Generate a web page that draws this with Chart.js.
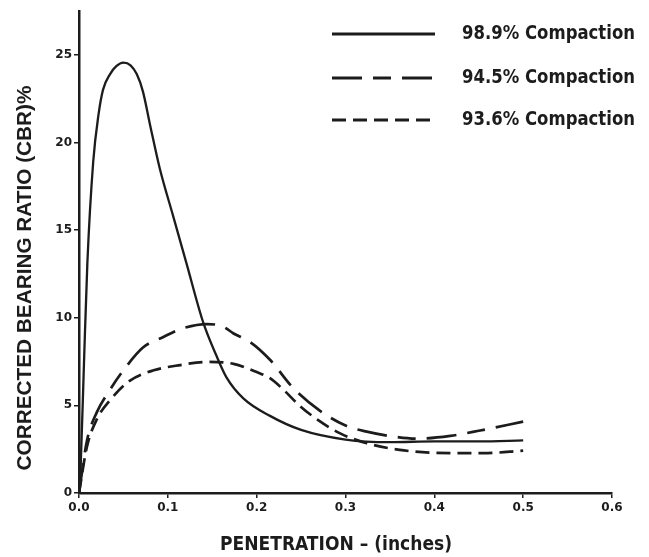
<!DOCTYPE html>
<html>
<head>
<meta charset="utf-8">
<script src="https://cdn.jsdelivr.net/npm/chart.js@4.4.1/dist/chart.umd.min.js"></script>
<style>
  html, body { margin: 0; padding: 0; background: #fff; }
</style>
</head>
<body>
<canvas id="cbr" width="649" height="557"></canvas>
<script>
// Penetratie (inches) en CBR (%) per verdichting
const pen989 = [0, 0.002, 0.0056, 0.0094, 0.016, 0.022, 0.027, 0.035, 0.042, 0.05, 0.058, 0.065, 0.072, 0.08, 0.091, 0.106, 0.121, 0.14, 0.155, 0.166, 0.185, 0.215, 0.25, 0.3, 0.35, 0.4, 0.45, 0.5];
const cbr989 = [0, 1.7, 7.4, 13.1, 18.9, 21.6, 23.0, 23.9, 24.35, 24.55, 24.4, 23.9, 22.9, 21.0, 18.5, 15.8, 13.1, 9.7, 7.8, 6.6, 5.4, 4.4, 3.6, 3.05, 2.9, 2.95, 2.95, 3.0];

const pen945 = [0, 0.009, 0.02, 0.035, 0.05, 0.072, 0.095, 0.117, 0.144, 0.162, 0.174, 0.193, 0.215, 0.241, 0.271, 0.3, 0.324, 0.35, 0.38, 0.418, 0.45, 0.5];
const cbr945 = [0, 3.0, 4.6, 5.9, 7.0, 8.3, 8.9, 9.4, 9.64, 9.5, 9.1, 8.6, 7.6, 6.0, 4.7, 3.85, 3.5, 3.25, 3.1, 3.26, 3.55, 4.07];

const pen936 = [0, 0.009, 0.02, 0.035, 0.057, 0.084, 0.114, 0.144, 0.174, 0.2, 0.215, 0.23, 0.249, 0.268, 0.294, 0.324, 0.361, 0.399, 0.455, 0.5];
const cbr936 = [0, 2.65, 4.2, 5.3, 6.4, 7.0, 7.3, 7.48, 7.37, 6.9, 6.55, 5.9, 4.95, 4.2, 3.4, 2.84, 2.46, 2.3, 2.27, 2.42];

const seriesLabels = ["98.9% Compaction", "94.5% Compaction", "93.6% Compaction"];
const xTicks = [0, 0.1, 0.2, 0.3, 0.4, 0.5, 0.6];
const yTicks = [0, 5, 10, 15, 20, 25];

const ink = "#1c1c1c";
const heavyFont = "'DejaVu Sans Condensed', 'Liberation Sans Narrow', 'DejaVu Sans', sans-serif";

function toPoints(xs, ys) {
    return xs.map((x, i) => ({ x: x, y: ys[i] }));
}

// tekst op een vaste breedte tekenen
function fitText(ctx, text, x, y, width, font, align) {
    ctx.save();
    ctx.font = font;
    ctx.textBaseline = "middle";
    ctx.textAlign = align;
    const w = ctx.measureText(text).width;
    ctx.translate(x, y);
    ctx.scale(width / w, 1);
    ctx.fillText(text, 0, 0);
    ctx.restore();
}

// legenda en astitels
const labelPlugin = {
    id: "cbrLabels",
    afterDraw(chart) {
        const ctx = chart.ctx;
        const legendY = [34, 78, 120];
        ctx.save();
        ctx.fillStyle = ink;
        chart.data.datasets.forEach((ds, i) => {
            ctx.save();
            ctx.strokeStyle = ds.borderColor;
            ctx.lineWidth = 3;
            ctx.setLineDash(ds.borderDash || []);
            ctx.beginPath();
            ctx.moveTo(332, legendY[i]);
            ctx.lineTo(435, legendY[i]);
            ctx.stroke();
            ctx.restore();
            fitText(ctx, ds.label, 462, legendY[i], 173, "bold 20px " + heavyFont, "left");
        });

        // y-as titel
        ctx.save();
        ctx.translate(25, 278);
        ctx.rotate(-Math.PI / 2);
        fitText(ctx, "CORRECTED BEARING RATIO (CBR)%", 0, 0, 385, "bold 20px 'Liberation Sans', Arial, sans-serif", "center");
        ctx.restore();

        // x-as titel
        fitText(ctx, "PENETRATION \u2013 (inches)", 336, 545, 232, "bold 20px " + heavyFont, "center");
        ctx.restore();
    }
};

new Chart(document.getElementById("cbr"), {
    type: "scatter",
    data: {
        datasets: [
            {
                label: seriesLabels[0],
                data: toPoints(pen989, cbr989),
                borderColor: ink,
                borderWidth: 2.3
            },
            {
                label: seriesLabels[1],
                data: toPoints(pen945, cbr945),
                borderColor: ink,
                borderWidth: 2.7,
                borderDash: [30, 11, 18, 11]
            },
            {
                label: seriesLabels[2],
                data: toPoints(pen936, cbr936),
                borderColor: ink,
                borderWidth: 2.7,
                borderDash: [14, 7]
            }
        ]
    },
    options: {
        responsive: false,
        animation: false,
        showLine: true,
        layout: { padding: { left: 0, top: 11, right: 37, bottom: 0 } },
        elements: {
            point: { radius: 0 },
            line: { cubicInterpolationMode: "monotone", fill: false }
        },
        plugins: {
            legend: { display: false },
            tooltip: { enabled: false }
        },
        scales: {
            x: {
                type: "linear",
                min: 0,
                max: 0.6,
                afterFit: (scale) => { scale.height = 64; },
                afterBuildTicks: (scale) => { scale.ticks = xTicks.map((v) => ({ value: v })); },
                border: { color: ink, width: 2.5 },
                grid: { drawOnChartArea: false, tickLength: 5, color: ink, lineWidth: 1.5 },
                ticks: {
                    padding: 3,
                    color: ink,
                    font: { family: "'DejaVu Sans', sans-serif", size: 12, weight: "bold" },
                    callback: (v) => v.toFixed(1)
                }
            },
            y: {
                type: "linear",
                min: 0,
                max: 27.5,
                afterFit: (scale) => { scale.width = 79; },
                afterBuildTicks: (scale) => { scale.ticks = yTicks.map((v) => ({ value: v })); },
                border: { color: ink, width: 2.5 },
                grid: { drawOnChartArea: false, tickLength: 5, color: ink, lineWidth: 1.5 },
                ticks: {
                    padding: 2,
                    color: ink,
                    font: { family: "'DejaVu Sans', sans-serif", size: 12, weight: "bold" }
                }
            }
        }
    },
    plugins: [labelPlugin]
});
</script>
</body>
</html>
